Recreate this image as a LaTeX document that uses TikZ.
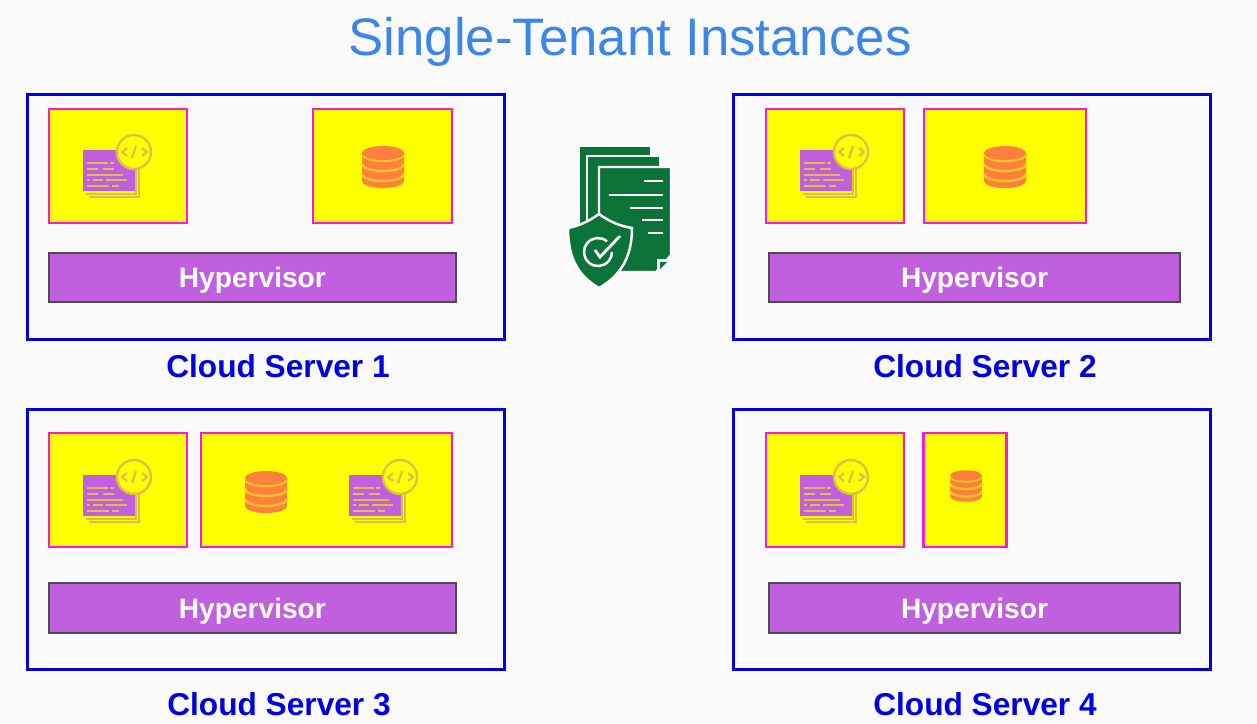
\documentclass[tikz,border=0pt]{standalone}
\usepackage{fontspec}
\setmainfont{Liberation Sans}
\usepackage{xcolor}
\usetikzlibrary{positioning}
\definecolor{pagebg}{HTML}{FAFAFA}
\definecolor{titleblue}{HTML}{3B86E8}
\definecolor{serverblue}{HTML}{0000E6}
\definecolor{vmpink}{HTML}{FF14E0}
\definecolor{vmyellow}{HTML}{FFFF00}
\definecolor{hyperpurple}{HTML}{C160DE}
\definecolor{iconline}{HTML}{E2BC48}
\definecolor{dbgap}{HTML}{FFC81E}
\definecolor{dborange}{HTML}{FF7F3F}
\definecolor{docgreen}{HTML}{0B7337}
\tikzset{
  server/.style={rectangle,draw=serverblue,line width=0.85pt,minimum height=#1,inner sep=0pt,minimum width=4.76cm},
  vmbox/.style={rectangle,draw=vmpink,fill=vmyellow,line width=0.65pt,inner sep=0pt},
  hyper/.style={rectangle,draw=black!70,fill=hyperpurple,line width=0.5pt,inner sep=0pt,text=white,text depth=0pt,font=\bfseries\fontsize{8}{10}\selectfont},
  serverlabel/.style={text=serverblue,inner sep=0pt,font=\bfseries\fontsize{9}{11}\selectfont},
  codeicon/.pic={
    \fill[iconline] (-29,-5) rectangle (22,32);
    \fill[vmyellow] (-31,-7) rectangle (20,30);
    \fill[iconline] (-32,-8) rectangle (19,29);
    \fill[vmyellow] (-34,-10) rectangle (17,27);
    \fill[hyperpurple] (-35,-16) rectangle (17,25);
    \foreach \ya/\xa/\xb in {-3/-31/-10,-3/-8/-4,3/-31/-20,3/-15/-4,9/-31/5,14/-31/-28,14/-25/-15,14/-12/9,20/-31/-9,20/-6/1}
      \draw[iconline,line width=0.5pt] (\xa,\ya) -- (\xb,\ya);
    \filldraw[fill=vmyellow,draw=iconline,line width=0.65pt] (16,-14) circle (17);
    \draw[iconline,line width=0.6pt] (9,-18) -- (4,-14) -- (9,-10);
    \draw[iconline,line width=0.6pt] (24,-18) -- (29,-14) -- (24,-10);
    \draw[iconline,line width=0.6pt] (18,-20) -- (14,-8);
  },
  dbicon/.pic={
    \fill[dborange] (-21,-14) -- (-21,14) arc[start angle=180,end angle=360,x radius=21,y radius=-7] -- (21,-14) -- cycle;
    \foreach \yb in {-13,-3,7}
      \draw[dbgap,line width=0.65pt] (-21,\yb) arc[start angle=180,end angle=360,x radius=21,y radius=-7];
    \fill[dborange] (0,-14) ellipse (21 and 7);
  },
}
\begin{document}
\begin{tikzpicture}[x=0.01cm,y=-0.01cm]
\useasboundingbox (0,0) rectangle (1257,724);
\fill[pagebg] (0,0) rectangle (1257,724);
\node[text=titleblue,inner sep=0pt,font=\fontsize{15}{18}\selectfont] (title) at (630,42) {Single-Tenant Instances};

% server 1
\node[server=246*0.2835pt] (srvone) at (266,217) {};
\node[vmbox,minimum width=139*0.2835pt,minimum height=114*0.2835pt] (vmonea) at (118,166) {};
\node[vmbox,minimum width=139*0.2835pt,minimum height=114*0.2835pt] (vmoneb) at (382.5,166) {};
\node[hyper,minimum width=408*0.2835pt,minimum height=49*0.2835pt] (hvone) at (252.4,277.5) {Hypervisor};
\node[serverlabel] (lblone) at (278,366) {Cloud Server 1};
\pic at (118,166) {codeicon};
\pic at (383,167) {dbicon};

% server 2
\node[server=246*0.2835pt] (srvtwo) at (972,217) {};
\node[vmbox,minimum width=139*0.2835pt,minimum height=114*0.2835pt] (vmtwoa) at (835,166) {};
\node[vmbox,minimum width=163*0.2835pt,minimum height=114*0.2835pt] (vmtwob) at (1005,166) {};
\node[hyper,minimum width=412*0.2835pt,minimum height=49*0.2835pt] (hvtwo) at (974.5,277.5) {Hypervisor};
\node[serverlabel] (lbltwo) at (985,366) {Cloud Server 2};
\pic at (835,166) {codeicon};
\pic at (1005,167) {dbicon};

% server 3
\node[server=261*0.2835pt] (srvthree) at (266,539.5) {};
\node[vmbox,minimum width=139*0.2835pt,minimum height=114*0.2835pt] (vmthreea) at (118,490) {};
\node[vmbox,minimum width=252*0.2835pt,minimum height=114*0.2835pt] (vmthreeb) at (326.5,490) {};
\node[hyper,minimum width=408*0.2835pt,minimum height=50*0.2835pt] (hvthree) at (252.4,608) {Hypervisor};
\node[serverlabel] (lblthree) at (279,704) {Cloud Server 3};
\pic at (118,491) {codeicon};
\pic at (266,492) {dbicon};
\pic at (384,491) {codeicon};

% server 4
\node[server=261*0.2835pt] (srvfour) at (972,539.5) {};
\node[vmbox,minimum width=139*0.2835pt,minimum height=114*0.2835pt] (vmfoura) at (835,490) {};
\node[vmbox,minimum width=83*0.2835pt,minimum height=114*0.2835pt] (vmfourb) at (965,490) {};
\node[hyper,minimum width=412*0.2835pt,minimum height=50*0.2835pt] (hvfour) at (974.5,608) {Hypervisor};
\node[serverlabel] (lblfour) at (985,704) {Cloud Server 4};
\pic at (835,491) {codeicon};
\pic[scale=0.75] at (966,486) {dbicon};

% compliance icon
\fill[docgreen] (580,147) rectangle (650,240);
\filldraw[fill=docgreen,draw=white,line width=0.6pt] (587,156) rectangle (660,250);
\filldraw[fill=docgreen,draw=white,line width=0.6pt] (599,167) -- (671,167) -- (671,255) -- (656,272) -- (599,272) -- cycle;
\fill[white] (657,272) -- (657,259) -- (670,259) -- cycle;
\fill[docgreen] (660,269) -- (660,262) -- (667,262) -- cycle;
\foreach \ya/\xa in {181/644,195/609,208/630,220/642,233/648}
  \draw[white,line width=0.75pt] (\xa,\ya) -- (663,\ya);
\filldraw[fill=docgreen,draw=white,line width=0.7pt] (599,214) .. controls (588,222) and (578,226) .. (568,228) .. controls (568,258) and (578,276) .. (599,288) .. controls (620,276) and (632,258) .. (632,228) .. controls (620,226) and (610,222) .. (599,214) -- cycle;
\draw[white,line width=0.7pt] (607,241.3) arc[start angle=-50,end angle=-360,radius=14];
\draw[white,line width=0.8pt] (595,250) -- (600,257) -- (620,236);
\end{tikzpicture}
\end{document}
